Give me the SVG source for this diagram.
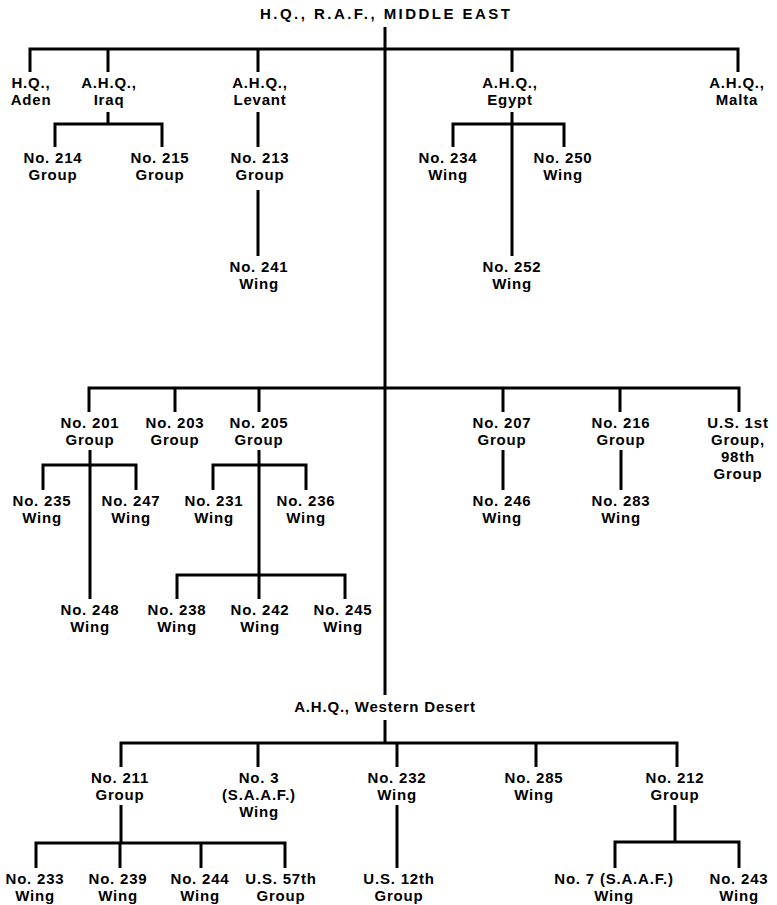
<svg xmlns="http://www.w3.org/2000/svg" width="777" height="905" viewBox="0 0 777 905">
<style>
.c{fill:none;stroke:#000;stroke-width:3;stroke-linejoin:miter;stroke-linecap:butt}
text{font-family:"Liberation Sans",Arial,sans-serif;font-weight:bold;font-size:15px;letter-spacing:0.8px;fill:#000;text-anchor:middle}
</style>
<rect width="777" height="905" fill="#fff"/>
<g id="connectors" class="c">
<path d="M385 27V695"/>
<path d="M30 72V49H738V72M108 49V72M258 49V72M512 49V72"/>
<path d="M108 112V124M55 147V124H162V147"/>
<path d="M258 112V147M258 190V256"/>
<path d="M512 112V256M453 147V124H564V147"/>
<path d="M89 412V388H739V412M175 388V412M259 388V412M503 388V412M620 388V412"/>
<path d="M90 450V599M43 490V465H136V490"/>
<path d="M259 450V599M213 490V465H306V490M177 599V575H345V599"/>
<path d="M503 450V490M621 450V490"/>
<path d="M385 720V743M121 767V743H677V767M258 743V767M397 743V767M536 743V767"/>
<path d="M121 805V843M36 868V843H285V868M120 843V868M201 843V868"/>
<path d="M397 805V868"/>
<path d="M675 805V842M615 868V842H739V868"/>
</g>
<g id="root"><text x="385" y="19" textLength="250" lengthAdjust="spacing" style="letter-spacing:0">H.Q., R.A.F., MIDDLE EAST</text></g>
<g id="aden"><text x="31" y="88">H.Q.,<tspan x="31" dy="17">Aden</tspan></text></g>
<g id="iraq"><text x="109" y="88">A.H.Q.,<tspan x="109" dy="17">Iraq</tspan></text></g>
<g id="levant"><text x="260" y="88">A.H.Q.,<tspan x="260" dy="17">Levant</tspan></text></g>
<g id="egypt"><text x="510" y="88">A.H.Q.,<tspan x="510" dy="17">Egypt</tspan></text></g>
<g id="malta"><text x="737" y="88">A.H.Q.,<tspan x="737" dy="17">Malta</tspan></text></g>
<g id="g214"><text x="53" y="163">No. 214<tspan x="53" dy="17">Group</tspan></text></g>
<g id="g215"><text x="160" y="163">No. 215<tspan x="160" dy="17">Group</tspan></text></g>
<g id="g213"><text x="260" y="163">No. 213<tspan x="260" dy="17">Group</tspan></text></g>
<g id="w241"><text x="259" y="272">No. 241<tspan x="259" dy="17">Wing</tspan></text></g>
<g id="w234"><text x="448" y="163">No. 234<tspan x="448" dy="17">Wing</tspan></text></g>
<g id="w250"><text x="563" y="163">No. 250<tspan x="563" dy="17">Wing</tspan></text></g>
<g id="w252"><text x="512" y="272">No. 252<tspan x="512" dy="17">Wing</tspan></text></g>
<g id="g201"><text x="90" y="428">No. 201<tspan x="90" dy="17">Group</tspan></text></g>
<g id="g203"><text x="175" y="428">No. 203<tspan x="175" dy="17">Group</tspan></text></g>
<g id="g205"><text x="259" y="428">No. 205<tspan x="259" dy="17">Group</tspan></text></g>
<g id="g207"><text x="502" y="428">No. 207<tspan x="502" dy="17">Group</tspan></text></g>
<g id="g216"><text x="621" y="428">No. 216<tspan x="621" dy="17">Group</tspan></text></g>
<g id="us1"><text x="738" y="428">U.S. 1st<tspan x="738" dy="17">Group,</tspan><tspan x="738" dy="17">98th</tspan><tspan x="738" dy="17">Group</tspan></text></g>
<g id="w235"><text x="42" y="506">No. 235<tspan x="42" dy="17">Wing</tspan></text></g>
<g id="w247"><text x="131" y="506">No. 247<tspan x="131" dy="17">Wing</tspan></text></g>
<g id="w231"><text x="214" y="506">No. 231<tspan x="214" dy="17">Wing</tspan></text></g>
<g id="w236"><text x="306" y="506">No. 236<tspan x="306" dy="17">Wing</tspan></text></g>
<g id="w246"><text x="502" y="506">No. 246<tspan x="502" dy="17">Wing</tspan></text></g>
<g id="w283"><text x="621" y="506">No. 283<tspan x="621" dy="17">Wing</tspan></text></g>
<g id="w248"><text x="90" y="615">No. 248<tspan x="90" dy="17">Wing</tspan></text></g>
<g id="w238"><text x="177" y="615">No. 238<tspan x="177" dy="17">Wing</tspan></text></g>
<g id="w242"><text x="260" y="615">No. 242<tspan x="260" dy="17">Wing</tspan></text></g>
<g id="w245"><text x="343" y="615">No. 245<tspan x="343" dy="17">Wing</tspan></text></g>
<g id="wd"><text x="385" y="712">A.H.Q., Western Desert</text></g>
<g id="g211"><text x="120" y="783">No. 211<tspan x="120" dy="17">Group</tspan></text></g>
<g id="w3"><text x="259" y="783">No. 3<tspan x="259" dy="17">(S.A.A.F.)</tspan><tspan x="259" dy="17">Wing</tspan></text></g>
<g id="w232"><text x="397" y="783">No. 232<tspan x="397" dy="17">Wing</tspan></text></g>
<g id="w285"><text x="534" y="783">No. 285<tspan x="534" dy="17">Wing</tspan></text></g>
<g id="g212"><text x="675" y="783">No. 212<tspan x="675" dy="17">Group</tspan></text></g>
<g id="w233"><text x="35" y="884">No. 233<tspan x="35" dy="17">Wing</tspan></text></g>
<g id="w239"><text x="118" y="884">No. 239<tspan x="118" dy="17">Wing</tspan></text></g>
<g id="w244"><text x="200" y="884">No. 244<tspan x="200" dy="17">Wing</tspan></text></g>
<g id="us57"><text x="281" y="884">U.S. 57th<tspan x="281" dy="17">Group</tspan></text></g>
<g id="us12"><text x="399" y="884">U.S. 12th<tspan x="399" dy="17">Group</tspan></text></g>
<g id="w7"><text x="614" y="884">No. 7 (S.A.A.F.)<tspan x="614" dy="17">Wing</tspan></text></g>
<g id="w243"><text x="739" y="884">No. 243<tspan x="739" dy="17">Wing</tspan></text></g>
</svg>
